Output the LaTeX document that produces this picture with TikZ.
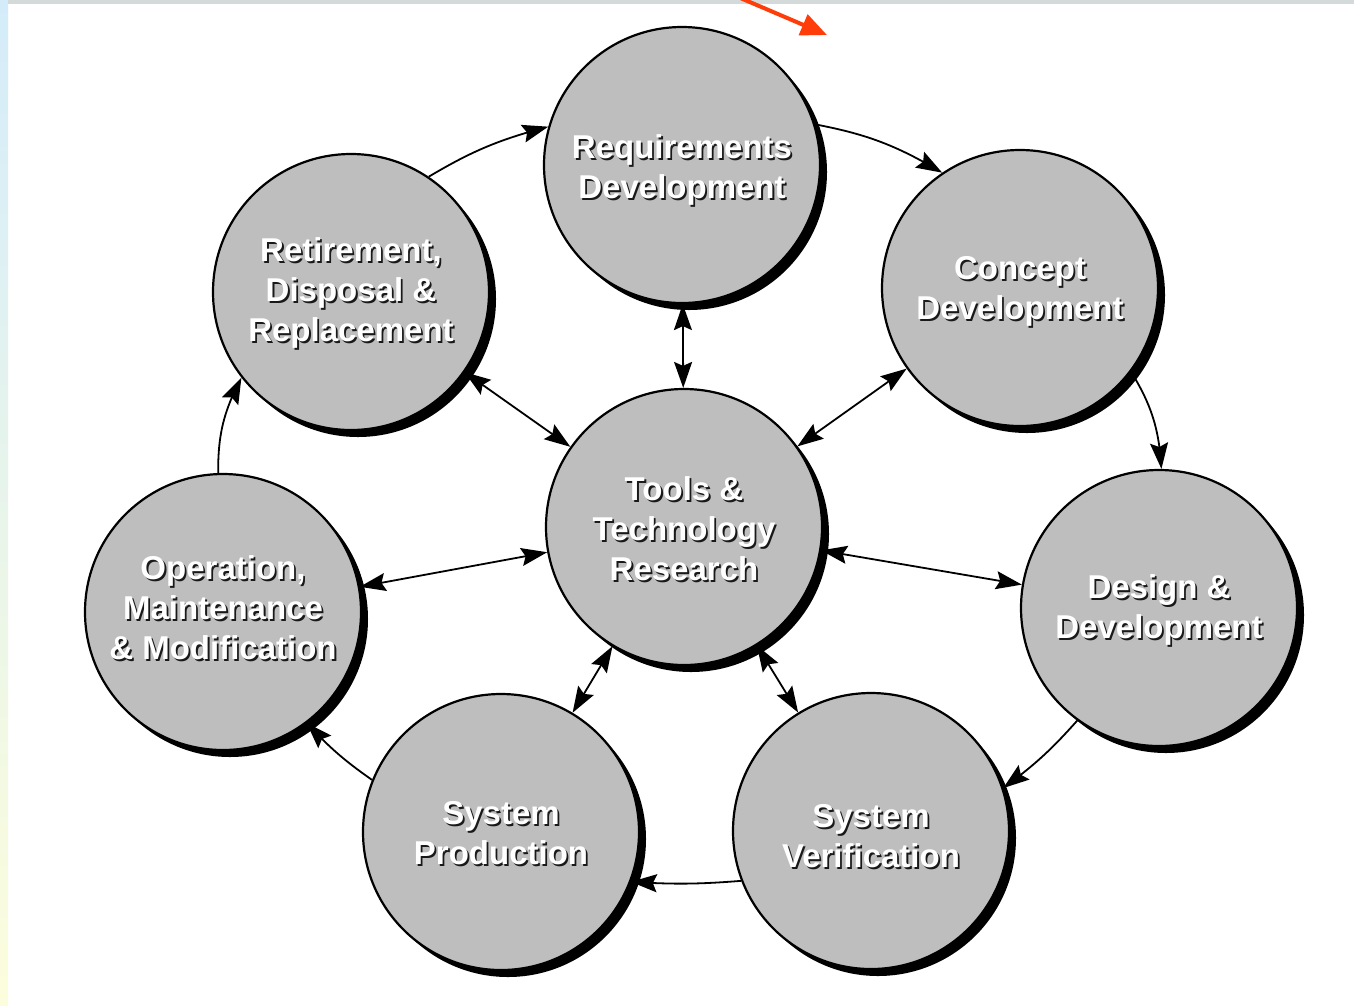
\documentclass[tikz,border=0pt]{standalone}
\usepackage{fontspec}
\newfontfamily\stagefont{Liberation Sans}
\usetikzlibrary{arrows.meta,shadows,bending}
\definecolor{stagegray}{HTML}{BEBEBE}
\definecolor{pointerred}{HTML}{FF3D0A}
\definecolor{stripblue}{HTML}{D4ECFA}
\definecolor{stripyellow}{HTML}{FCFDDC}
\definecolor{bargray}{HTML}{D3DAD9}
% white lettering with a dark copy offset down and to the right
\newcommand{\shadowed}[1]{\leavevmode\rlap{\kern1.8pt\raisebox{-1.8pt}{\textcolor{black!90}{#1}}}#1}

\begin{document}
\begin{tikzpicture}[x=1pt,y=-1pt,
  stage/.style={circle, draw=black, line width=2.2pt, fill=stagegray,
    minimum size=276pt, inner sep=0pt,
    drop shadow={shadow xshift=7pt, shadow yshift=-7pt, opacity=1, fill=black}},
  stagetext/.style={align=center, text=white, inner sep=0pt,
    font=\stagefont\bfseries\fontsize{33}{40}\selectfont},
  head/.tip={Stealth[length=26pt,width=18pt,inset=4pt]},
  flow/.style={line width=1.8pt, -head},
  link/.style={line width=1.8pt, head-head},
]
\useasboundingbox (0,0) rectangle (1354,1005);
% page background, side strip and top bar
\fill[white] (0,0) rectangle (1354,1005);
\shade[top color=stripblue, bottom color=stripyellow] (0,0) rectangle (8,1005);
\fill[bargray] (8,0) rectangle (1354,4);

% life-cycle stages
\node[stage, label={[stagetext, yshift=-6pt]center:{\shadowed{Requirements}\\\shadowed{Development}}}] (req) at (682,165) {};
\node[stage, label={[stagetext, yshift=-4pt]center:{\shadowed{Concept}\\\shadowed{Development}}}] (con) at (1020,288) {};
\node[stage, label={[stagetext, yshift=-3pt]center:{\shadowed{Design \&}\\\shadowed{Development}}}] (des) at (1159,608) {};
\node[stage, label={[stagetext, yshift=-6pt]center:{\shadowed{System}\\\shadowed{Verification}}}] (ver) at (871,831) {};
\node[stage, label={[stagetext, yshift=-2pt]center:{\shadowed{System}\\\shadowed{Production}}}] (pro) at (501,832) {};
\node[stage, label={[stagetext, yshift=3pt]center:{\shadowed{Operation,}\\\shadowed{Maintenance}\\\shadowed{\& Modification}}}] (ope) at (223,612) {};
\node[stage, label={[stagetext, yshift=-2pt]center:{\shadowed{Retirement,}\\\shadowed{Disposal \&}\\\shadowed{Replacement}}}] (ret) at (351,292) {};
\node[stage, label={[stagetext, yshift=-3pt]center:{\shadowed{Tools \&}\\\shadowed{Technology}\\\shadowed{Research}}}] (too) at (684,527) {};

% outer cycle
\draw[flow] (ret.56) to[bend left=8] (req.164);
\draw[flow] (req.17) to[bend left=10] (con.124);
\draw[flow] (con.-37) to[bend left=14] (des.89);
\draw[flow] (des.-126) to[bend left=6] (ver.18);
\draw[flow] (ver.-159) to[bend left=4] (pro.-21);
\draw[flow] (pro.158) to[bend left=6] (ope.-53);
\draw[flow] (ope.92) to[bend left=14] (ret.-142);

% links with the central stage
\draw[link] (too) -- (req);
\draw[link] (too) -- (con);
\draw[link] (too) -- (des);
\draw[link] (too) -- (ver);
\draw[link] (too) -- (pro);
\draw[link] (too) -- (ope);
\draw[link] (too) -- (ret);

% red pointer at the top
\coordinate (ptrA) at (738,-3);
\coordinate (ptrB) at (827,35);
\draw[pointerred, line width=4pt, -{Triangle[length=26pt,width=22pt]}] (ptrA) -- (ptrB);
\end{tikzpicture}
\end{document}
